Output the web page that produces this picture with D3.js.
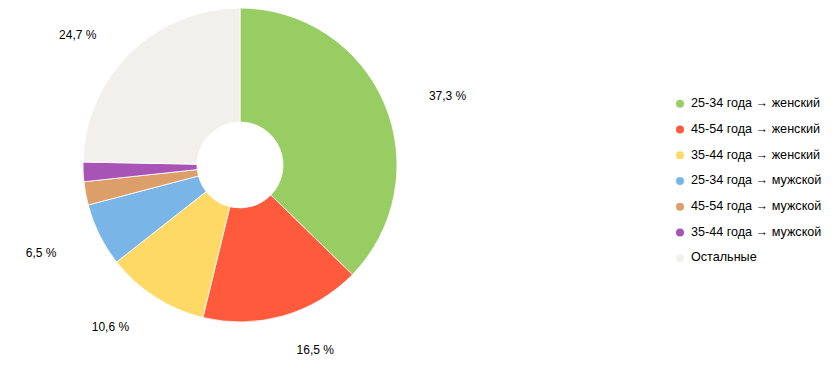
<!DOCTYPE html>
<html>
<head>
<meta charset="utf-8">
<script src="https://cdn.jsdelivr.net/npm/d3@7"></script>
<style>
  body { margin: 0; background: #fff; }
  svg { font-family: Arial, "Liberation Sans", sans-serif; }
</style>
</head>
<body>
<svg width="837" height="374"></svg>
<script>
const categories = [
  "25-34 года → женский",
  "45-54 года → женский",
  "35-44 года → женский",
  "25-34 года → мужской",
  "45-54 года → мужской",
  "35-44 года → мужской",
  "Остальные"
];
const shares = [37.3, 16.5, 10.6, 6.5, 2.4, 2.0, 24.7];
const colors = ["#98cd63", "#ff5a3b", "#ffd966", "#79b6e7", "#dc9f6a", "#a853b6", "#f1f0ed"];
const labelMin = 5; // smaller slices get no label

const svg = d3.select("svg");

const cx = 240, cy = 165;
const outerR = 157, innerR = 43;

const data = categories.map((c, i) => ({ name: c, value: shares[i], color: colors[i] }));

const pie = d3.pie().value(d => d.value).sort(null);
const arc = d3.arc().innerRadius(innerR).outerRadius(outerR);

const chart = svg.append("g")
                 .attr("transform", `translate(${cx}, ${cy})`);

const arcs = pie(data);

chart.selectAll("path")
     .data(arcs)
     .enter()
     .append("path")
     .attr("d", arc)
     .attr("fill", d => d.data.color)
     .attr("stroke", "#fff")
     .attr("stroke-width", 0.8);

// labels: right half starts at the anchor point, left half ends there
const rx = 205, ry = 188;
const mid = d => (d.startAngle + d.endAngle) / 2;
chart.selectAll("text.lbl")
     .data(arcs.filter(d => d.data.value >= labelMin))
     .enter()
     .append("text")
     .attr("class", "lbl")
     .attr("x", d => rx * Math.sin(mid(d)))
     .attr("y", d => -ry * Math.cos(mid(d)))
     .attr("dy", 5)
     .attr("text-anchor", d => mid(d) < Math.PI ? "start" : "end")
     .attr("dominant-baseline", "middle")
     .style("font-size", "12px")
     .style("fill", "#000")
     .text(d => d.data.value.toFixed(1).replace(".", ",") + " %");

// legend
const legendY = d3.scaleBand()
                  .domain(categories)
                  .range([91, 271]);

const legend = svg.append("g");

const rows = legend.selectAll("g")
                   .data(data)
                   .enter()
                   .append("g")
                   .attr("transform", d => `translate(680, ${legendY(d.name) + legendY.bandwidth() / 2})`);

rows.append("circle")
    .attr("r", 4)
    .attr("fill", d => d.color);

rows.append("text")
    .attr("x", 11)
    .attr("dominant-baseline", "middle")
    .style("font-size", "12.6px")
    .style("fill", "#000")
    .text(d => d.name);
</script>
</body>
</html>
